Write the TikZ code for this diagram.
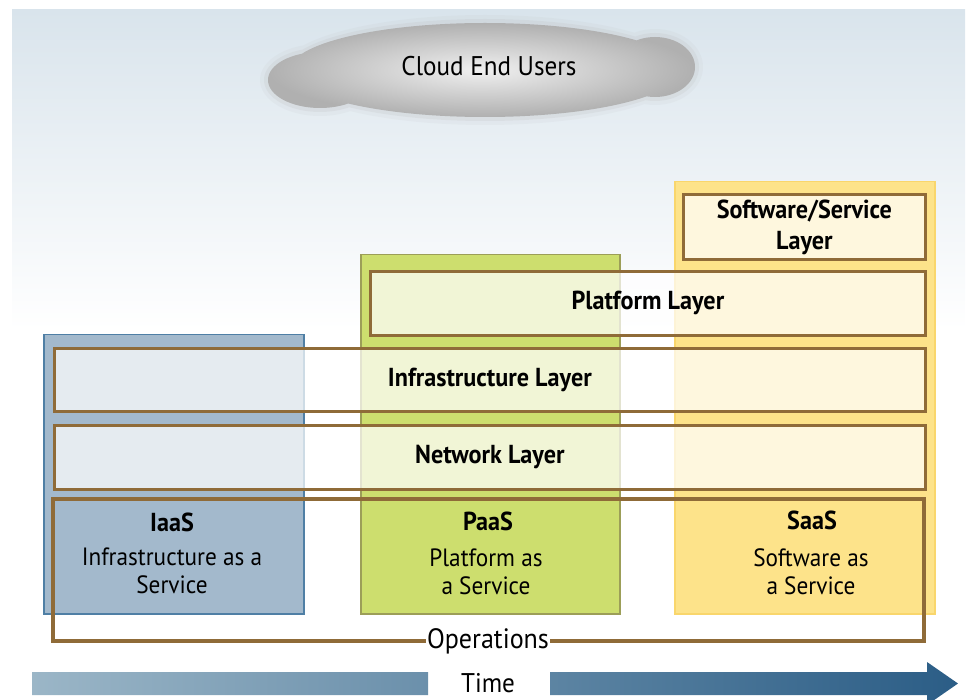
\documentclass[tikz,border=0pt]{standalone}
\usepackage{fontspec}
\setmainfont{PT Sans}[FakeStretch=0.93]
\usetikzlibrary{positioning, backgrounds}
\definecolor{skyTop}{HTML}{D9E4EC}
\definecolor{iaasFill}{HTML}{A3B9CC}
\definecolor{iaasLine}{HTML}{4F7FA5}
\definecolor{paasFill}{HTML}{CDDE6E}
\definecolor{paasLine}{HTML}{9C9E58}
\definecolor{saasFill}{HTML}{FDE38A}
\definecolor{saasLine}{HTML}{F9D66C}
\definecolor{layerLine}{HTML}{8F6B38}
\definecolor{timeLeft}{HTML}{9BB6C7}
\definecolor{timeRight}{HTML}{2B5D86}
\tikzstyle{colbox} = [%
  rectangle,
  anchor=north west,
  line width=1.5pt,
  inner sep=0pt
]
\tikzstyle{layer} = [%
  rectangle,
  anchor=north west,
  draw=layerLine,
  line width=2.8pt,
  fill=white,
  fill opacity=0.72,
  text opacity=1.0,
  align=center,
  font=\bfseries\fontsize{26}{31}\selectfont
]
% cloud outline, grown by #1
\newcommand{\cloudblob}[1]{%
  (485,70) ellipse [x radius=195+#1, y radius=47+#1]
  (320,80) ellipse [x radius=52+#1, y radius=28+#1]
  (655,67) ellipse [x radius=40+#1, y radius=30+#1]}

\begin{document}
\begin{tikzpicture}[%
  x=1pt, y=-1pt,
  every node/.style={%
    text=black,
    text centered,
    align=center
  },
  svctitle/.style={font=\bfseries\fontsize{26}{28}\selectfont, inner sep=0pt},
  svcdesc/.style={font=\fontsize{25}{28}\selectfont, inner sep=0pt},
  opsframe/.style={draw=layerLine, line width=4.2pt}
]
  \useasboundingbox (0,0) rectangle (969,700);
  \clip (0,0) rectangle (969,700);

  % Sky
  \shade[top color=skyTop, bottom color=white] (12,10) rectangle (965,330);

  % Cloud
  \fill[gray!55, opacity=0.10] \cloudblob{8};
  \fill[gray!55, opacity=0.18] \cloudblob{4};
  \shade[shading=radial, inner color=gray!12, outer color=gray!62] \cloudblob{0};
  \node[font=\fontsize{27}{30}\selectfont] (users) at (489,66) {Cloud End Users};

  % Service columns
  \node[colbox, draw=iaasLine, fill=iaasFill, minimum width=260pt, minimum height=279pt] (iaas) at (43,334) {};
  \node[colbox, draw=paasLine, fill=paasFill, minimum width=259pt, minimum height=359pt] (paas) at (360,254) {};
  \node[colbox, draw=saasLine, fill=saasFill, minimum width=260pt, minimum height=432pt] (saas) at (674,181) {};

  % Layers
  \node[layer, minimum width=242pt, minimum height=65pt] (software) at (682,193) {Software/Service\\Layer};
  \node[layer, minimum width=555pt, minimum height=64pt] (platform) at (369,270) {Platform Layer};
  \node[layer, minimum width=871pt, minimum height=63pt] (infra) at (53,347) {Infrastructure Layer};
  \node[layer, minimum width=871pt, minimum height=64pt] (network) at (53,424) {Network Layer};

  % Operations
  \node[font=\fontsize{28}{30}\selectfont, fill=white, inner xsep=1pt, inner ysep=0pt] (ops) at (488,641) {Operations};
  \coordinate (opsNW) at (53,499);
  \coordinate (opsNE) at (924,499);
  \draw[opsframe] (ops.west) -| (opsNW) -- (opsNE) |- (ops.east);

  % Column texts
  \node[svctitle] (iaasT) at (172,522) {IaaS};
  \node[svcdesc] (iaasD) at (172,571) {Infrastructure as a\\Service};
  \node[svctitle] (paasT) at (488,521) {PaaS};
  \node[svcdesc] (paasD) at (486,572) {Platform as\\a Service};
  \node[svctitle] (saasT) at (812,520) {SaaS};
  \node[svcdesc] (saasD) at (811,572) {Software as\\a Service};

  % Time arrow
  \shade[left color=timeLeft, right color=timeRight]
    (32,672) rectangle (428,695)
    (550,672) -- (927,672) -- (927,662) -- (958,683.5) -- (927,705) -- (927,695) -- (550,695) -- cycle;
  \node[font=\fontsize{27}{30}\selectfont] (time) at (488,683) {Time};

\end{tikzpicture}
\end{document}
